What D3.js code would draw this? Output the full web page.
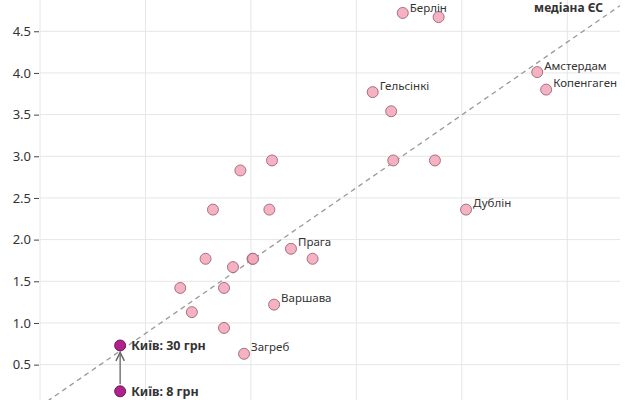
<!DOCTYPE html>
<html>
<head>
<meta charset="utf-8">
<script src="https://cdn.jsdelivr.net/npm/d3@7"></script>
<style>
  body { margin: 0; background: #fff; }
  svg { display: block; font-family: "Noto Sans", sans-serif; }
</style>
</head>
<body>
<svg width="640" height="400"></svg>
<script>
// cities: x = income level (axis cut off), y = ticket price, EUR
var cityNames = ["Берлін", "", "Амстердам", "Копенгаген", "Гельсінкі", "", "", "", "Дублін",
    "", "", "", "", "", "Прага", "", "", "", "", "", "", "", "Варшава", "", "Загреб"];
var cityX = [34.4, 37.8, 47.15, 48.0, 31.55, 33.3, 33.5, 37.45, 40.4,
    19.0, 22.0, 16.4, 21.75, 15.7, 23.8, 25.85, 18.3, 20.15, 20.2, 13.3, 17.45, 14.4, 22.2, 17.45, 19.35];
var cityY = [4.72, 4.67, 4.01, 3.80, 3.77, 3.54, 2.95, 2.95, 2.36,
    2.83, 2.95, 2.36, 2.36, 1.77, 1.89, 1.77, 1.67, 1.77, 1.77, 1.42, 1.42, 1.13, 1.22, 0.94, 0.63];

var kyivX = 7.6;
var kyivOld = 0.18, kyivNew = 0.73;
var kyivLabels = ["Київ: 8 грн", "Київ: 30 грн"];

var medianSlope = 0.0874; // price per x unit, EU median
var yTicks = [0.5, 1.0, 1.5, 2.0, 2.5, 3.0, 3.5, 4.0, 4.5];
var xTicks = [0, 10, 20, 30, 40, 50];

var svg = d3.select("svg");

var x = d3.scaleLinear().domain([0, 55]).range([40, 620]);
var y = d3.scaleLinear().domain([0, 5]).range([406.3, -10.4]);

// grid
svg.append("g")
    .selectAll("line")
    .data(yTicks)
    .enter().append("line")
    .attr("x1", 40).attr("x2", 620)
    .attr("y1", function(d) { return y(d); })
    .attr("y2", function(d) { return y(d); })
    .attr("stroke", "#e6e6e6");

svg.append("g")
    .selectAll("line")
    .data(xTicks)
    .enter().append("line")
    .attr("x1", function(d) { return x(d); })
    .attr("x2", function(d) { return x(d); })
    .attr("y1", 0).attr("y2", 400)
    .attr("stroke", "#e6e6e6");

// y axis
var yAxis = svg.append("g")
    .attr("transform", "translate(39,0)")
    .call(d3.axisLeft(y).tickValues(yTicks).tickFormat(d3.format(".1f")).tickSize(5).tickPadding(3));
yAxis.select(".domain").remove();
yAxis.selectAll("line").attr("stroke", "#444");
yAxis.selectAll("text").attr("fill", "#333").style("font-size", "13px").style("font-family", "Noto Sans, sans-serif");

// median line
svg.append("line")
    .attr("x1", x(0)).attr("y1", y(0))
    .attr("x2", x(55)).attr("y2", y(55 * medianSlope))
    .attr("stroke", "#999")
    .attr("stroke-width", 1.3)
    .attr("stroke-dasharray", "5,4");

svg.append("text")
    .attr("x", 603).attr("y", 12)
    .attr("text-anchor", "end")
    .attr("fill", "#333")
    .style("font-size", "12px")
    .style("font-weight", "bold")
    .text("медіана ЄС");

// city points
var cities = cityX.map(function(d, i) { return {x: d, y: cityY[i], name: cityNames[i]}; });

svg.append("g")
    .selectAll("circle")
    .data(cities)
    .enter().append("circle")
    .attr("cx", function(d) { return x(d.x); })
    .attr("cy", function(d) { return y(d.y); })
    .attr("r", 5.5)
    .attr("fill", "#f5a9bd")
    .attr("fill-opacity", 0.9)
    .attr("stroke", "#9a6675")
    .attr("stroke-width", 0.9);

svg.append("g")
    .selectAll("text")
    .data(cities.filter(function(d) { return d.name; }))
    .enter().append("text")
    .attr("x", function(d) { return x(d.x) + 7; })
    .attr("y", function(d) { return Math.max(y(d.y) - 2.5, 12); })
    .attr("fill", "#333")
    .style("font-size", "11.5px")
    .text(function(d) { return d.name; });

// Kyiv arrow
svg.append("defs").append("marker")
    .attr("id", "arr")
    .attr("viewBox", "0 0 10 10")
    .attr("refX", 9).attr("refY", 5)
    .attr("markerWidth", 7).attr("markerHeight", 7)
    .attr("orient", "auto")
    .append("path")
    .attr("d", "M1,1 L9,5 L1,9")
    .attr("fill", "none")
    .attr("stroke", "#666")
    .attr("stroke-width", 1.4);

svg.append("line")
    .attr("x1", x(kyivX)).attr("y1", y(kyivOld) - 7)
    .attr("x2", x(kyivX)).attr("y2", y(kyivNew) + 7)
    .attr("stroke", "#777")
    .attr("stroke-width", 1.5)
    .attr("marker-end", "url(#arr)");

var kyiv = [kyivOld, kyivNew];

svg.append("g")
    .selectAll("circle")
    .data(kyiv)
    .enter().append("circle")
    .attr("cx", x(kyivX))
    .attr("cy", function(d) { return y(d); })
    .attr("r", 5.5)
    .attr("fill", "#b0218b")
    .attr("stroke", "#5e1048")
    .attr("stroke-width", 0.9);

svg.append("g")
    .selectAll("text")
    .data(kyiv)
    .enter().append("text")
    .attr("x", x(kyivX) + 11)
    .attr("y", function(d) { return y(d); })
    .attr("dy", "0.35em")
    .attr("fill", "#333")
    .style("font-size", "12.5px")
    .style("font-weight", "bold")
    .text(function(d, i) { return kyivLabels[i]; });
</script>
</body>
</html>
